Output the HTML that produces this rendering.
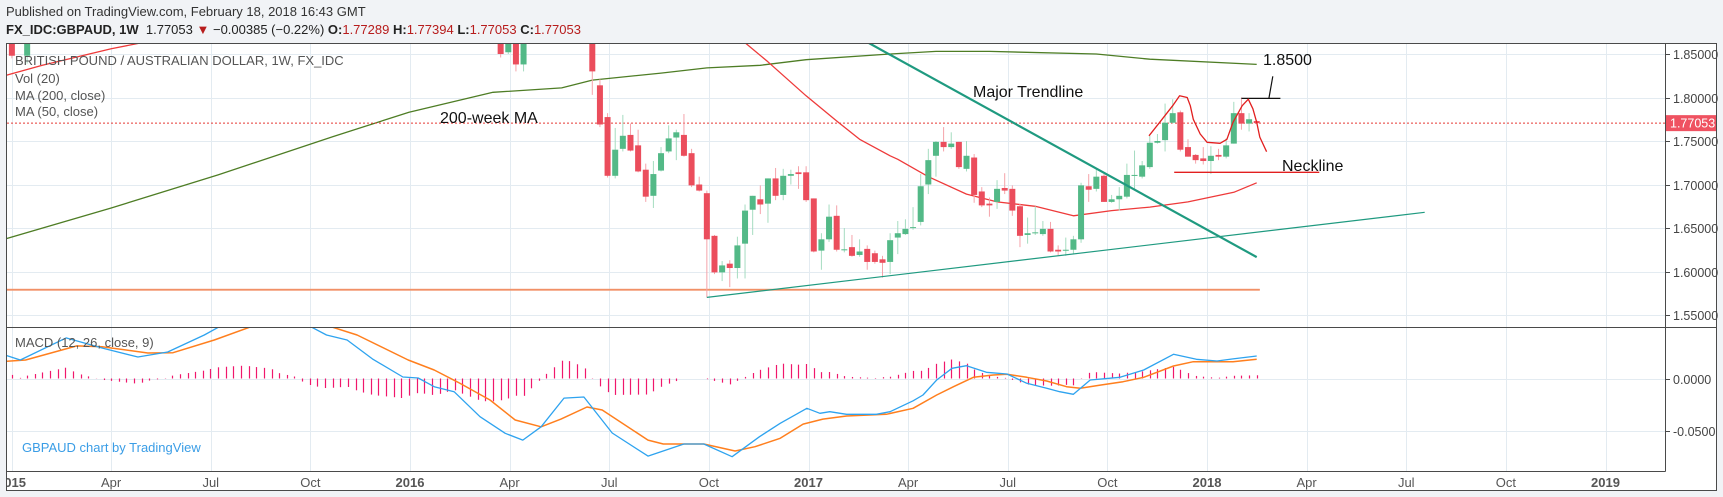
<!DOCTYPE html>
<html><head><meta charset="utf-8"><style>
html,body{margin:0;padding:0;background:#f1f3f6;}
body{width:1723px;height:497px;overflow:hidden;font-family:"Liberation Sans",sans-serif;}
#hdr1{position:absolute;left:6px;top:4px;font-size:13px;color:#333;}
#hdr2{position:absolute;left:6px;top:22px;font-size:13px;color:#222;}
#hdr2 .r{color:#b71c1c;}
svg{position:absolute;left:0;top:0;}
</style></head><body>
<div id="hdr1">Published on TradingView.com, February 18, 2018 16:43 GMT</div>
<div id="hdr2"><b>FX_IDC:GBPAUD, 1W</b>&nbsp; 1.77053 <span class="r">▼</span> −0.00385 (−0.22%) <b>O:</b><span class="r">1.77289</span> <b>H:</b><span class="r">1.77394</span> <b>L:</b><span class="r">1.77053</span> <b>C:</b><span class="r">1.77053</span></div>
<svg id="chart" width="1723" height="497" xmlns="http://www.w3.org/2000/svg">
<defs>
<clipPath id="cm"><rect x="7" y="44" width="1658" height="283"/></clipPath>
<clipPath id="cd"><rect x="7" y="328" width="1658" height="143"/></clipPath>
<clipPath id="ct"><rect x="7" y="472" width="1658" height="18"/></clipPath>
</defs>
<rect x="6.5" y="43.5" width="1710" height="447" fill="#fff" stroke="none"/>
<g id="grid"></g>
<g id="main" clip-path="url(#cm)"></g>
<g id="macd" clip-path="url(#cd)"></g>
<g id="axes"></g>
<g id="frame" fill="none" stroke="#4a4a4a" stroke-width="1">
<rect x="6.5" y="43.5" width="1710" height="447"/>
<line x1="1665.5" y1="43" x2="1665.5" y2="471.5"/>
<line x1="6" y1="327.5" x2="1716" y2="327.5"/>
<line x1="6" y1="471.5" x2="1665.5" y2="471.5"/>
</g>
<g id="texts" font-family="Liberation Sans, sans-serif">
<text x="15" y="65" font-size="13" fill="#555">BRITISH POUND / AUSTRALIAN DOLLAR, 1W, FX_IDC</text>
<text x="15" y="83" font-size="13" fill="#555">Vol (20)</text>
<text x="15" y="100" font-size="13" fill="#555">MA (200, close)</text>
<text x="15" y="116" font-size="13" fill="#555">MA (50, close)</text>
<text x="15" y="347" font-size="13" fill="#555">MACD (12, 26, close, 9)</text>
<text x="22" y="452" font-size="13" fill="#3a9de6">GBPAUD chart by TradingView</text>
<text x="440" y="123" font-size="16" fill="#111">200-week MA</text>
<text x="973" y="97" font-size="16" fill="#111">Major Trendline</text>
<text x="1263" y="65" font-size="16" fill="#111">1.8500</text>
<text x="1282" y="171" font-size="16" fill="#111">Neckline</text>
</g>
</svg>
<script>
const weeks=[-75,-73,-11,-10,-9,-8,1,2,3,4,5,6,7,8,9,10,11,12,13,14,15,16,17,18,19,20,21,22,23,24,25,26,27,28,29,30,31,32,33,34,35,36,37,38,39,40,41,42,43,44,45,46,47,48,49,50,51,52,53,54,55,56,57,58,59,60,61,62,63,64,65,66,67,68,69,70,71,72,73,74,75,76,77,78,79,80,81,82,83,84,85,86,87,88];
const opens=[1.90,1.848,1.92,1.852,1.93,1.838,1.955,1.814,1.7775,1.710,1.741,1.757,1.745,1.717,1.687,1.716,1.738,1.754,1.757,1.736,1.700,1.690,1.641,1.599,1.609,1.604,1.632,1.671,1.683,1.678,1.707,1.688,1.710,1.714,1.714,1.684,1.624,1.637,1.664,1.625,1.628,1.619,1.626,1.621,1.614,1.611,1.639,1.643,1.650,1.657,1.700,1.733,1.749,1.743,1.749,1.718,1.731,1.692,1.678,1.680,1.696,1.695,1.675,1.642,1.644,1.643,1.649,1.625,1.624,1.625,1.637,1.698,1.695,1.710,1.680,1.683,1.686,1.710,1.709,1.720,1.748,1.751,1.771,1.783,1.743,1.734,1.730,1.727,1.734,1.732,1.747,1.782,1.770,1.7729];
const highs=[1.91,1.90,1.93,1.93,1.94,1.94,1.965,1.821,1.782,1.765,1.780,1.770,1.763,1.724,1.727,1.743,1.768,1.763,1.781,1.741,1.709,1.693,1.642,1.612,1.613,1.640,1.677,1.687,1.699,1.707,1.719,1.718,1.717,1.721,1.721,1.684,1.644,1.677,1.676,1.650,1.642,1.637,1.630,1.624,1.618,1.644,1.658,1.660,1.674,1.712,1.741,1.750,1.766,1.760,1.749,1.750,1.735,1.697,1.685,1.705,1.713,1.699,1.678,1.662,1.675,1.658,1.657,1.630,1.639,1.641,1.702,1.712,1.719,1.712,1.688,1.697,1.724,1.739,1.727,1.756,1.758,1.793,1.798,1.785,1.752,1.735,1.743,1.744,1.741,1.753,1.795,1.800,1.782,1.7739];
const lows=[1.845,1.839,1.846,1.85,1.830,1.830,1.803,1.766,1.708,1.707,1.738,1.738,1.714,1.680,1.673,1.715,1.736,1.728,1.732,1.697,1.692,1.570,1.597,1.589,1.582,1.592,1.592,1.642,1.666,1.656,1.682,1.682,1.700,1.695,1.680,1.622,1.602,1.634,1.623,1.622,1.617,1.617,1.602,1.609,1.593,1.597,1.620,1.642,1.648,1.653,1.689,1.709,1.738,1.741,1.718,1.715,1.679,1.674,1.663,1.672,1.689,1.664,1.628,1.632,1.642,1.641,1.622,1.618,1.618,1.620,1.633,1.680,1.692,1.680,1.679,1.670,1.684,1.695,1.707,1.718,1.747,1.738,1.770,1.738,1.732,1.724,1.723,1.712,1.728,1.730,1.747,1.763,1.761,1.7705];
const closes=[1.848,1.90,1.850,1.92,1.838,1.92,1.830,1.769,1.710,1.740,1.756,1.739,1.715,1.686,1.712,1.736,1.753,1.760,1.733,1.699,1.693,1.637,1.599,1.607,1.604,1.630,1.670,1.687,1.677,1.707,1.687,1.710,1.712,1.712,1.682,1.623,1.637,1.663,1.625,1.6255,1.618,1.623,1.611,1.611,1.610,1.636,1.644,1.649,1.651,1.698,1.728,1.749,1.743,1.747,1.720,1.733,1.688,1.676,1.676,1.695,1.693,1.670,1.641,1.644,1.645,1.649,1.623,1.623,1.625,1.637,1.699,1.694,1.709,1.680,1.683,1.687,1.711,1.711,1.722,1.748,1.750,1.771,1.782,1.740,1.732,1.728,1.727,1.733,1.732,1.745,1.782,1.770,1.775,1.77053];
const ma200Weeks=[-76,-62,-48,-33,-23,-12,-3,1,10,16,23,29,40,46,53,67,74,88];
const ma200Vals=[1.637,1.673,1.711,1.755,1.783,1.806,1.811,1.820,1.828,1.834,1.837,1.8435,1.850,1.853,1.853,1.850,1.844,1.838];
const ma50Weeks=[-76,-71,-62,-58,-50,-20,5,21,24,29,33,36,40,41,45,50,54,59,64,69,74,79,85,88];
const ma50Vals=[1.825,1.837,1.856,1.863,1.90,1.93,1.90,1.863,1.841,1.802,1.773,1.752,1.733,1.729,1.709,1.689,1.680,1.675,1.664,1.670,1.674,1.680,1.691,1.702];
const macdWeeks=[-76.6,-73.9,-67.9,-63.2,-58.5,-54.6,-49.8,-47.9,-44.5,-41.2,-38.0,-35.8,-33.8,-31.1,-27.8,-23.8,-21.8,-19.7,-17.1,-13.7,-10.4,-8.1,-5.7,-2.7,-0.1,3.6,8.3,13.0,15.6,19.3,22.9,25.6,29.1,30.8,32.1,34.3,38.2,40.0,43.0,44.3,46.1,48.1,50.0,52.6,55.3,57.9,60.5,62.2,64.0,66.2,70.1,73.2,77.1,80.1,82.8,84.9,88.0];
const macdVals=[0.0242,0.0178,0.0390,0.0293,0.0207,0.0255,0.0418,0.0495,0.0601,0.0649,0.0601,0.0495,0.0418,0.0370,0.0188,0.0014,0.0005,-0.0079,-0.0127,-0.0367,-0.0527,-0.0592,-0.0464,-0.0188,-0.0178,-0.0524,-0.0746,-0.0630,-0.0630,-0.0752,-0.0560,-0.0431,-0.0287,-0.0335,-0.0319,-0.0344,-0.0344,-0.0319,-0.0214,-0.0159,-0.0014,0.0098,0.0123,0.0060,0.0043,-0.0046,-0.0094,-0.0127,-0.0152,-0.0014,0.0012,0.0082,0.0233,0.0185,0.0168,0.0188,0.0216];
const signalWeeks=[-76.6,-73.2,-66.5,-63.2,-57.2,-53.9,-48.5,-43.8,-39.9,-36.6,-33.1,-29.8,-23.1,-19.7,-16.4,-12.4,-9.1,-5.7,-3.1,0.3,2.3,8.3,10.3,15.6,19.7,22.3,25.6,28.6,31.2,34.3,39.5,43.0,46.1,48.3,50.9,53.5,55.3,57.9,60.5,63.1,64.9,67.5,70.5,73.2,77.1,79.7,84.9,88.0];
const signalVals=[0.0162,0.0178,0.0313,0.0306,0.0245,0.0248,0.0370,0.0495,0.0582,0.0582,0.0495,0.0418,0.0178,0.0082,-0.0043,-0.0207,-0.0399,-0.0464,-0.0390,-0.0274,-0.0303,-0.0592,-0.0630,-0.0630,-0.0697,-0.0656,-0.0575,-0.0438,-0.0390,-0.0361,-0.0344,-0.0287,-0.0159,-0.0079,0.0012,0.0034,0.0040,0.0012,-0.0024,-0.0079,-0.0094,-0.0063,-0.0031,0.0012,0.0120,0.0162,0.0162,0.0185];
const priceTicks=[1.55,1.60,1.65,1.70,1.75,1.80,1.85];
const macdTicks=[0,-0.05];
const timeTicks=[2015,2015.25,2015.5,2015.75,2016,2016.25,2016.5,2016.75,2017,2017.25,2017.5,2017.75,2018,2018.25,2018.5,2018.75,2019];
const timeLabels=['2015','Apr','Jul','Oct','2016','Apr','Jul','Oct','2017','Apr','Jul','Oct','2018','Apr','Jul','Oct','2019'];
const lastPrice=1.77053;
const majorTrend=[[37.2,1.8627],[88.0,1.6166]];
const supportTrend=[[16.0,1.5702],[110.0,1.6680]];
const lowLevel=[[-76,1.579],[88.4,1.579]];
const neckline=[[77.2,1.714],[96.2,1.714]];
const targetLine=[[86.0,1.799],[91.1,1.799]];
const targetPointer=[[89.6,1.799],[90.1,1.8244]];
const hsSketch=[[73.9,1.756],[75.3,1.7715],[77.0,1.7906],[77.9,1.802],[78.9,1.800],[79.3,1.7906],[79.7,1.775],[80.6,1.758],[81.5,1.7485],[83.2,1.7473],[84.1,1.752],[84.9,1.7715],[86.1,1.7906],[86.9,1.798],[87.5,1.787],[88.0,1.7715],[88.4,1.7545],[89.3,1.7377]];

const NS='http://www.w3.org/2000/svg';
const xW=w=>584.66+w*7.637;
const xT=t=>410+(t-2016)*398.5;
const yP=p=>54+(1.85-p)*870;
const yM=v=>378.5-v*1040;
function mk(tag,attrs,parent){const e=document.createElementNS(NS,tag);for(const k in attrs)e.setAttribute(k,attrs[k]);document.getElementById(parent).appendChild(e);return e;}
function interp(ws,vs,w){if(w<ws[0]||w>ws[ws.length-1])return null;for(let i=1;i<ws.length;i++){if(w<=ws[i]){const f=(w-ws[i-1])/(ws[i]-ws[i-1]);return vs[i-1]+f*(vs[i]-vs[i-1]);}}return null;}

timeTicks.forEach((t,i)=>{
  const x=Math.round(xT(t))+0.5;
  const g=mk('line',{x1:x,y1:44,x2:x,y2:471,stroke:'#e3ebf1','stroke-width':1},'grid');
  
  
  const tx=mk('text',{x:xT(t),y:487,'font-size':13,fill:'#555','text-anchor':'middle','font-weight':timeLabels[i].length===4?'bold':'normal','clip-path':'url(#ct)'},'axes');
  tx.textContent=timeLabels[i];
  
  
});
priceTicks.forEach(p=>{
  const y=Math.round(yP(p))+0.5;
  const g=mk('line',{x1:7,y1:y,x2:1665,y2:y,stroke:'#e3ebf1','stroke-width':1},'grid');
  
  
  const tk=mk('line',{x1:1665,y1:y,x2:1670,y2:y,stroke:'#4a4a4a'},'axes');
  
  
  const tx=mk('text',{x:1673,y:y+4.5,'font-size':12.5,fill:'#444'},'axes');
  tx.textContent=p.toFixed(5);
  
  
});
macdTicks.forEach(v=>{
  const y=Math.round(yM(v))+0.5;
  const g=mk('line',{x1:7,y1:y,x2:1665,y2:y,stroke:'#e3ebf1','stroke-width':1},'grid');
  
  
  const tk=mk('line',{x1:1665,y1:y,x2:1670,y2:y,stroke:'#4a4a4a'},'axes');
  
  
  const tx=mk('text',{x:1673,y:y+4.5,'font-size':12.5,fill:'#444'},'axes');
  tx.textContent=v.toFixed(4);
  
  
});

function poly(pts,stroke,width,parent){
  const d=pts.map((p,i)=>(i?'L':'M')+p[0].toFixed(1)+' '+p[1].toFixed(1)).join(' ');
  return mk('path',{d:d,fill:'none',stroke:stroke,'stroke-width':width,'stroke-linejoin':'round'},parent);
}
let e=poly(lowLevel.map(p=>[xW(p[0]),yP(p[1])]),'#f4a582',2,'main');


e=poly(lowLevel.map(p=>[xW(p[0]),yP(p[1])]),'#f08a5d',1,'main');


e=poly(ma200Weeks.map((w,i)=>[xW(w),yP(ma200Vals[i])]),'#4e7d25',1.3,'main');


e=poly(ma50Weeks.map((w,i)=>[xW(w),yP(ma50Vals[i])]),'#ee3a3a',1.3,'main');


e=mk('line',{x1:7,y1:yP(lastPrice),x2:1665,y2:yP(lastPrice),stroke:'#e53935','stroke-width':1,'stroke-dasharray':'2 2'},'main');


weeks.forEach((w,i)=>{
  const up=closes[i]>=opens[i];
  const x=xW(w);
  const wk=mk('line',{x1:x,y1:yP(highs[i]),x2:x,y2:yP(lows[i]),stroke:up?'#a5dcc0':'#f5a3aa','stroke-width':1},'main');
  
  
  const top=yP(Math.max(opens[i],closes[i])),bot=yP(Math.min(opens[i],closes[i]));
  const b=mk('rect',{x:x-3,y:top,width:6,height:Math.max(1,bot-top),fill:up?'#53b987':'#eb4d5c'},'main');
  
  
});
e=poly(majorTrend.map(p=>[xW(p[0]),yP(p[1])]),'#1f9a80',2.2,'main');


e=poly(supportTrend.map(p=>[xW(p[0]),yP(p[1])]),'#1f9a80',1.2,'main');


e=poly(neckline.map(p=>[xW(p[0]),yP(p[1])]),'#e21f1f',1.4,'main');


e=poly(targetLine.map(p=>[xW(p[0]),yP(p[1])]),'#111',1.3,'main');


e=poly(targetPointer.map(p=>[xW(p[0]),yP(p[1])]),'#111',1.2,'main');


e=poly(hsSketch.map(p=>[xW(p[0]),yP(p[1])]),'#e21f1f',1.3,'main');


for(let w=-76;w<=88;w++){
  const a=interp(macdWeeks,macdVals,w),b=interp(signalWeeks,signalVals,w);
  if(a===null||b===null)continue;
  const h=a-b;
  const x=Math.round(xW(w))+0.5;
  const bar=mk('line',{x1:x,y1:yM(0),x2:x,y2:yM(h),stroke:'#f0176c','stroke-width':1.2},'macd');
  
  
}
e=poly(signalWeeks.map((w,i)=>[xW(w),yM(signalVals[i])]),'#ff7f1e',1.5,'macd');


e=poly(macdWeeks.map((w,i)=>[xW(w),yM(macdVals[i])]),'#2ea3ef',1.3,'macd');


const ly=yP(lastPrice);
e=mk('rect',{x:1665,y:ly-8,width:52,height:16,fill:'#ef5261'},'axes');


e=mk('text',{x:1670,y:ly+4.5,'font-size':12.5,fill:'#fff'},'axes');
e.textContent=lastPrice.toFixed(5);


</script>
</body></html>
